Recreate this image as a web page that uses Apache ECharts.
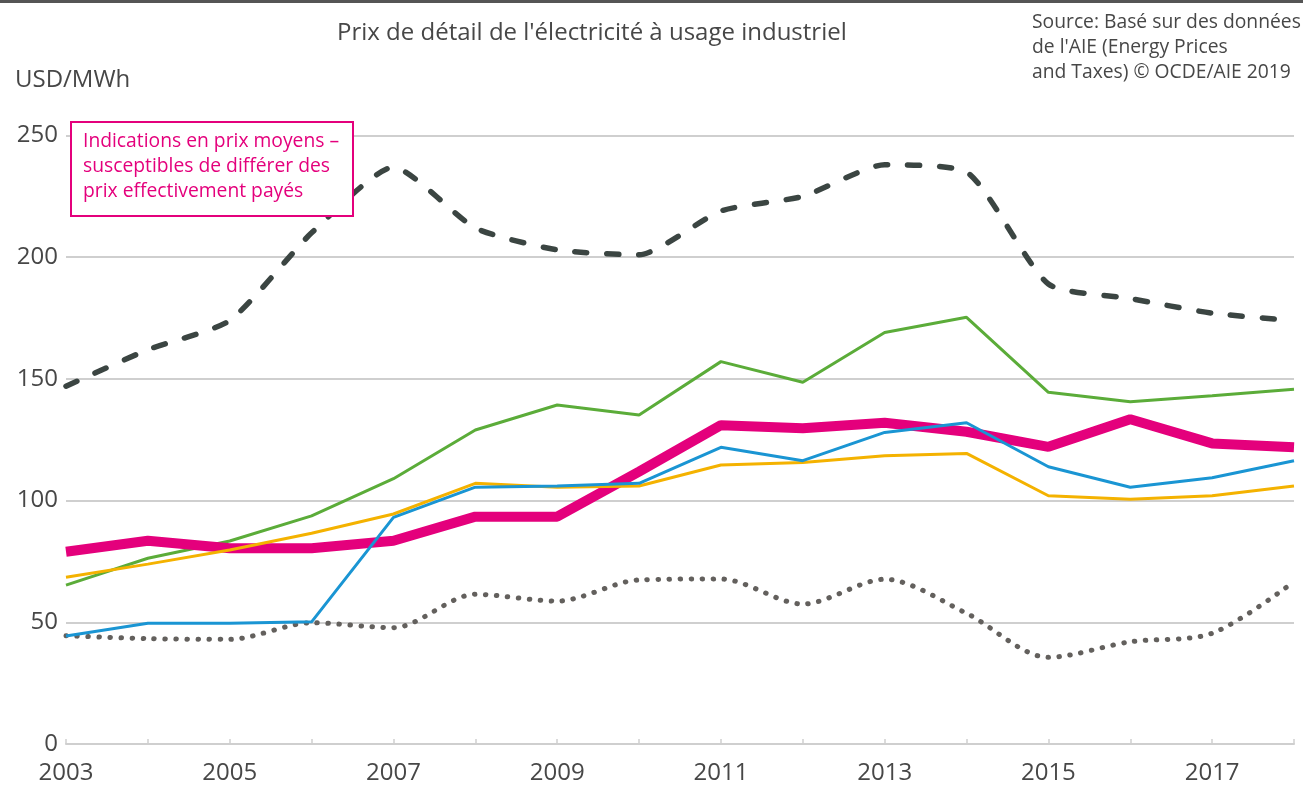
<!DOCTYPE html>
<html>
<head>
<meta charset="utf-8">
<script src="https://cdn.jsdelivr.net/npm/echarts@6/dist/echarts.min.js"></script>
<style>
  html, body { margin: 0; padding: 0; background: #fff; }
  #main { width: 1303px; height: 792px; }
</style>
</head>
<body>
<div id="main"></div>
<script>
var years = ['2003', '2004', '2005', '2006', '2007', '2008', '2009', '2010', '2011', '2012', '2013', '2014', '2015', '2016', '2017', '2018'];

// valeurs (USD/MWh)
var serieTirets = [147, 162, 174, 210, 237, 212, 203, 201, 219, 225, 238, 235, 189, 183, 177, 174];
var seriePoints = [44.5, 43.3, 43, 49.8, 47.8, 61.5, 58.7, 67.4, 67.8, 57.5, 67.7, 53.7, 35.6, 42, 45.5, 66.7];
var serieVerte = [65.3, 76.3, 83.4, 93.7, 109, 129, 139.3, 135.2, 157.1, 148.6, 169.1, 175.3, 144.5, 140.6, 143.1, 145.7];
var serieRose = [79, 83.5, 80.4, 80.4, 83.5, 93.4, 93.4, 111.9, 131, 129.7, 132, 128.3, 122.1, 133.4, 123.5, 121.9];
var serieJaune = [68.5, 73.9, 79.7, 86.6, 94.5, 107.1, 105.5, 106, 114.6, 115.7, 118.4, 119.4, 102, 100.6, 102, 106];
var serieBleue = [44.4, 49.6, 49.6, 50.2, 93.1, 105.5, 106, 107.1, 121.9, 116.4, 128, 132, 113.9, 105.5, 109.4, 116.4];

var font = 'Open Sans';
var texte = '#474747';
var myChart = echarts.init(document.getElementById('main'));

option = {
    animation: false,
    textStyle: { fontFamily: font },
    title: {
        text: "Prix de détail de l'électricité à usage industriel",
        left: 332,
        top: 16,
        textStyle: { fontSize: 24, fontWeight: 'normal', color: texte, fontFamily: font }
    },
    grid: {
        left: 66,
        right: 9,
        top: 135.5,
        bottom: 48,
        containLabel: false
    },
    xAxis: {
        type: 'category',
        boundaryGap: false,
        data: years,
        axisLine: { lineStyle: { color: '#cfcfcf', width: 2 } },
        axisTick: { inside: true, length: 5, interval: 0, lineStyle: { color: '#cfcfcf', width: 1.5 } },
        axisLabel: { interval: 1, fontSize: 24, color: texte, margin: 17, fontFamily: font }
    },
    yAxis: {
        type: 'value',
        min: 0,
        max: 250,
        interval: 50,
        axisLine: { show: false },
        axisTick: { show: false },
        axisLabel: { fontSize: 24, color: texte, margin: 8, fontFamily: font },
        splitLine: { lineStyle: { color: '#cfcfcf', width: 2 } }
    },
    series: [
        {
            type: 'line', data: serieTirets, symbol: 'none', smooth: 0.2, z: 2,
            lineStyle: { color: '#3b4542', width: 5.5, type: [12, 20], cap: 'round' }
        },
        {
            type: 'line', data: seriePoints, symbol: 'none', smooth: 0.3, z: 2,
            lineStyle: { color: '#63605d', width: 5, type: [0.5, 10.5], cap: 'round' }
        },
        {
            type: 'line', data: serieVerte, symbol: 'none', z: 3,
            lineStyle: { color: '#5bac39', width: 3 }
        },
        {
            type: 'line', data: serieRose, symbol: 'none', z: 3,
            lineStyle: { color: '#e4007c', width: 10 }
        },
        {
            type: 'line', data: serieJaune, symbol: 'none', z: 3,
            lineStyle: { color: '#f4b200', width: 3 }
        },
        {
            type: 'line', data: serieBleue, symbol: 'none', z: 3,
            lineStyle: { color: '#1a95d3', width: 3 }
        }
    ],
    graphic: [
        {
            type: 'rect', left: 0, top: 0,
            shape: { width: 1303, height: 3 },
            style: { fill: '#555' }
        },
        {
            type: 'text', left: 15, top: 68,
            style: { text: 'USD/MWh', fontSize: 24, fill: texte, fontFamily: font }
        },
        {
            type: 'text', left: 1032, top: 10,
            style: {
                text: "Source: Basé sur des données\nde l'AIE (Energy Prices\nand Taxes) © OCDE/AIE 2019",
                fontSize: 19.3, lineHeight: 25, fill: texte, fontFamily: font
            }
        },
        {
            type: 'rect', left: 70, top: 121, z: 10,
            shape: { width: 282, height: 94 },
            style: { fill: '#fff', stroke: '#e4007c', lineWidth: 2 }
        },
        {
            type: 'text', left: 83, top: 129, z: 11,
            style: {
                text: 'Indications en prix moyens –\nsusceptibles de différer des\nprix effectivement payés',
                fontSize: 19.3, lineHeight: 25, fill: '#e4007c', fontFamily: font
            }
        }
    ]
};

myChart.setOption(option);
</script>
</body>
</html>
